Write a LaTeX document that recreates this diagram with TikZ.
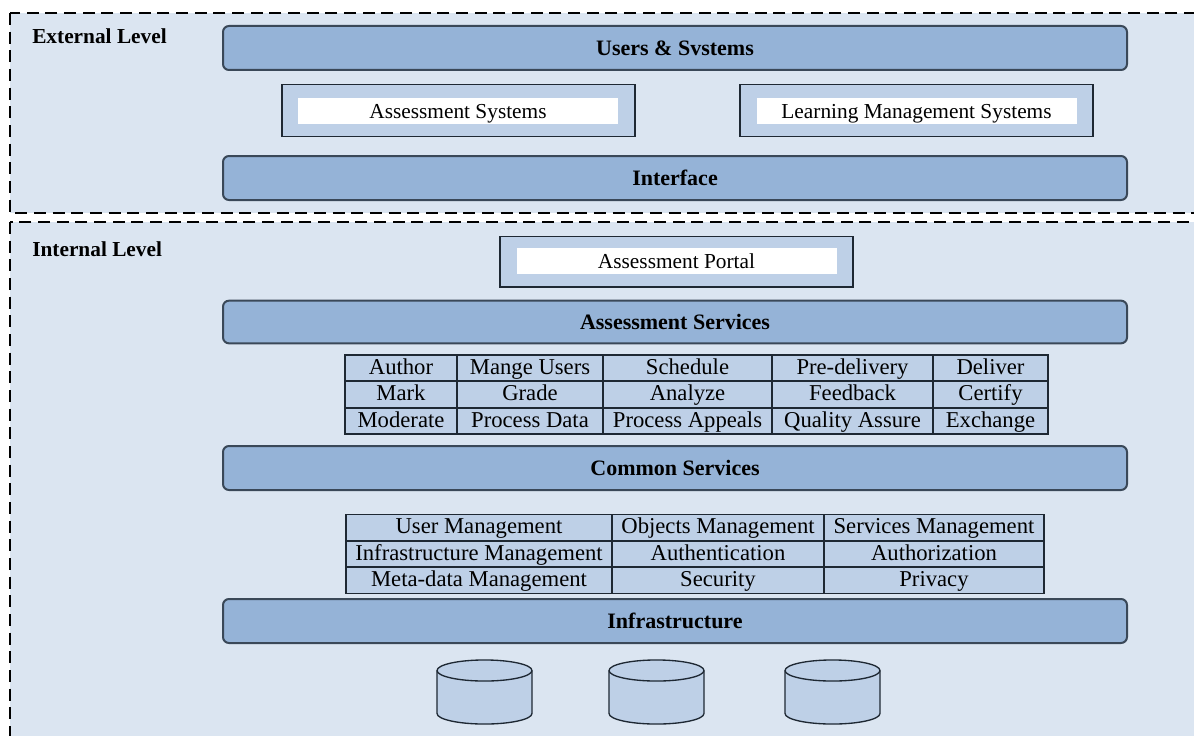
\documentclass[tikz,border=0pt]{standalone}
\usepackage{fontspec}
\setmainfont{Liberation Serif}

\definecolor{panelbg}{HTML}{DBE5F1}
\definecolor{barfill}{HTML}{95B3D7}
\definecolor{barline}{HTML}{3A4858}
\definecolor{cellfill}{HTML}{BED0E7}
\definecolor{cellline}{HTML}{1E2833}

\tikzset{
  level/.style={draw=black, fill=panelbg, line width=1.5pt, dash pattern=on 9pt off 5pt},
  levelname/.style={anchor=base west, inner sep=0pt, font=\fontsize{16}{18}\selectfont\bfseries},
  bar/.style={draw=barline, line width=1.5pt, fill=barfill, rounded corners=4.5pt,
    minimum width=678pt, minimum height=33pt, inner sep=0pt, text height=12pt, text depth=1pt,
    font=\fontsize{16.5}{18}\selectfont\bfseries},
  sysbox/.style={draw=cellline, line width=1pt, fill=cellfill, inner sep=0pt,
    minimum width=264.75pt, minimum height=39pt},
  syslabel/.style={fill=white, inner sep=0pt, minimum width=240pt, minimum height=20pt,
    text height=12pt, text depth=1.5pt, font=\fontsize{16}{18}\selectfont},
  cell/.style={draw=cellline, line width=1pt, fill=cellfill, inner sep=0pt,
    minimum height=19.5pt, text height=12pt, text depth=2.5pt, font=\fontsize{17}{18}\selectfont},
  disk/.style={draw=cellline, line width=1pt, fill=cellfill}
}

\begin{document}
\begin{tikzpicture}[x=0.75pt,y=-0.75pt]
\useasboundingbox (0,0) rectangle (1194,735);
\fill[white] (0,0) rectangle (1194,735);
\clip (0,0) rectangle (1194,735);

% the two levels
\draw[level] (10,13) rectangle (1215,213);
\draw[level] (10,222) rectangle (1215,745);
\node[levelname] (extlabel) at (32,44) {External Level};
\node[levelname] (intlabel) at (32,256) {Internal Level};

% external level
\node[bar] (users) at (675,48) {Users \& Svstems};
\node[sysbox] (asysbox) at (458.5,110.5) {};
\node[syslabel] (asys) at (458,111) {Assessment Systems};
\node[sysbox] (lmsbox) at (916.5,110.5) {};
\node[syslabel] (lms) at (916.5,111) {Learning Management Systems};
\node[bar] (iface) at (675,178) {Interface};

% internal level
\node[sysbox, minimum height=38pt] (portalbox) at (676.5,261.5) {};
\node[syslabel, minimum height=19.5pt] (portal) at (676.5,261) {Assessment Portal};
\node[bar, minimum height=32pt] (aserv) at (675,322) {Assessment Services};

% assessment services table
\foreach \xa/\xb/\txt [count=\i] in {345/457/Author, 457/603/Mange Users, 603/772/Schedule, 772/933/Pre-delivery, 933/1048/Deliver}
  \node[cell, minimum width={(\xb-\xa)*0.75pt}] (sa-\i) at ({(\xa+\xb)/2},368) {\txt};
\foreach \xa/\xb/\txt [count=\i] in {345/457/Mark, 457/603/Grade, 603/772/Analyze, 772/933/Feedback, 933/1048/Certify}
  \node[cell, minimum width={(\xb-\xa)*0.75pt}] (sb-\i) at ({(\xa+\xb)/2},394.5) {\txt};
\foreach \xa/\xb/\txt [count=\i] in {345/457/Moderate, 457/603/Process Data, 603/772/Process Appeals, 772/933/Quality Assure, 933/1048/Exchange}
  \node[cell, minimum width={(\xb-\xa)*0.75pt}] (sc-\i) at ({(\xa+\xb)/2},421) {\txt};

\node[bar] (cserv) at (675,468) {Common Services};

% common services table
\foreach \xa/\xb/\txt [count=\i] in {346/612/User Management, 612/824/Objects Management, 824/1044/Services Management}
  \node[cell, minimum width={(\xb-\xa)*0.75pt}] (ca-\i) at ({(\xa+\xb)/2},527.5) {\txt};
\foreach \xa/\xb/\txt [count=\i] in {346/612/Infrastructure Management, 612/824/Authentication, 824/1044/Authorization}
  \node[cell, minimum width={(\xb-\xa)*0.75pt}] (cb-\i) at ({(\xa+\xb)/2},554) {\txt};
\foreach \xa/\xb/\txt [count=\i] in {346/612/Meta-data Management, 612/824/Security, 824/1044/Privacy}
  \node[cell, minimum width={(\xb-\xa)*0.75pt}] (cc-\i) at ({(\xa+\xb)/2},580.5) {\txt};

\node[bar] (infra) at (675,621) {Infrastructure};

% data stores
\foreach \x [count=\i] in {484.5,656.5,832.5} {
  \coordinate (db\i) at (\x,670.5);
  \draw[disk] ([xshift=-35.6pt]db\i) -- ++(0pt,-32.25pt)
    arc[start angle=180, end angle=360, x radius=35.6pt, y radius=7.9pt] -- ++(0pt,32.25pt);
  \draw[disk] (db\i) ellipse[x radius=35.6pt, y radius=7.9pt];
}
\end{tikzpicture}
\end{document}
